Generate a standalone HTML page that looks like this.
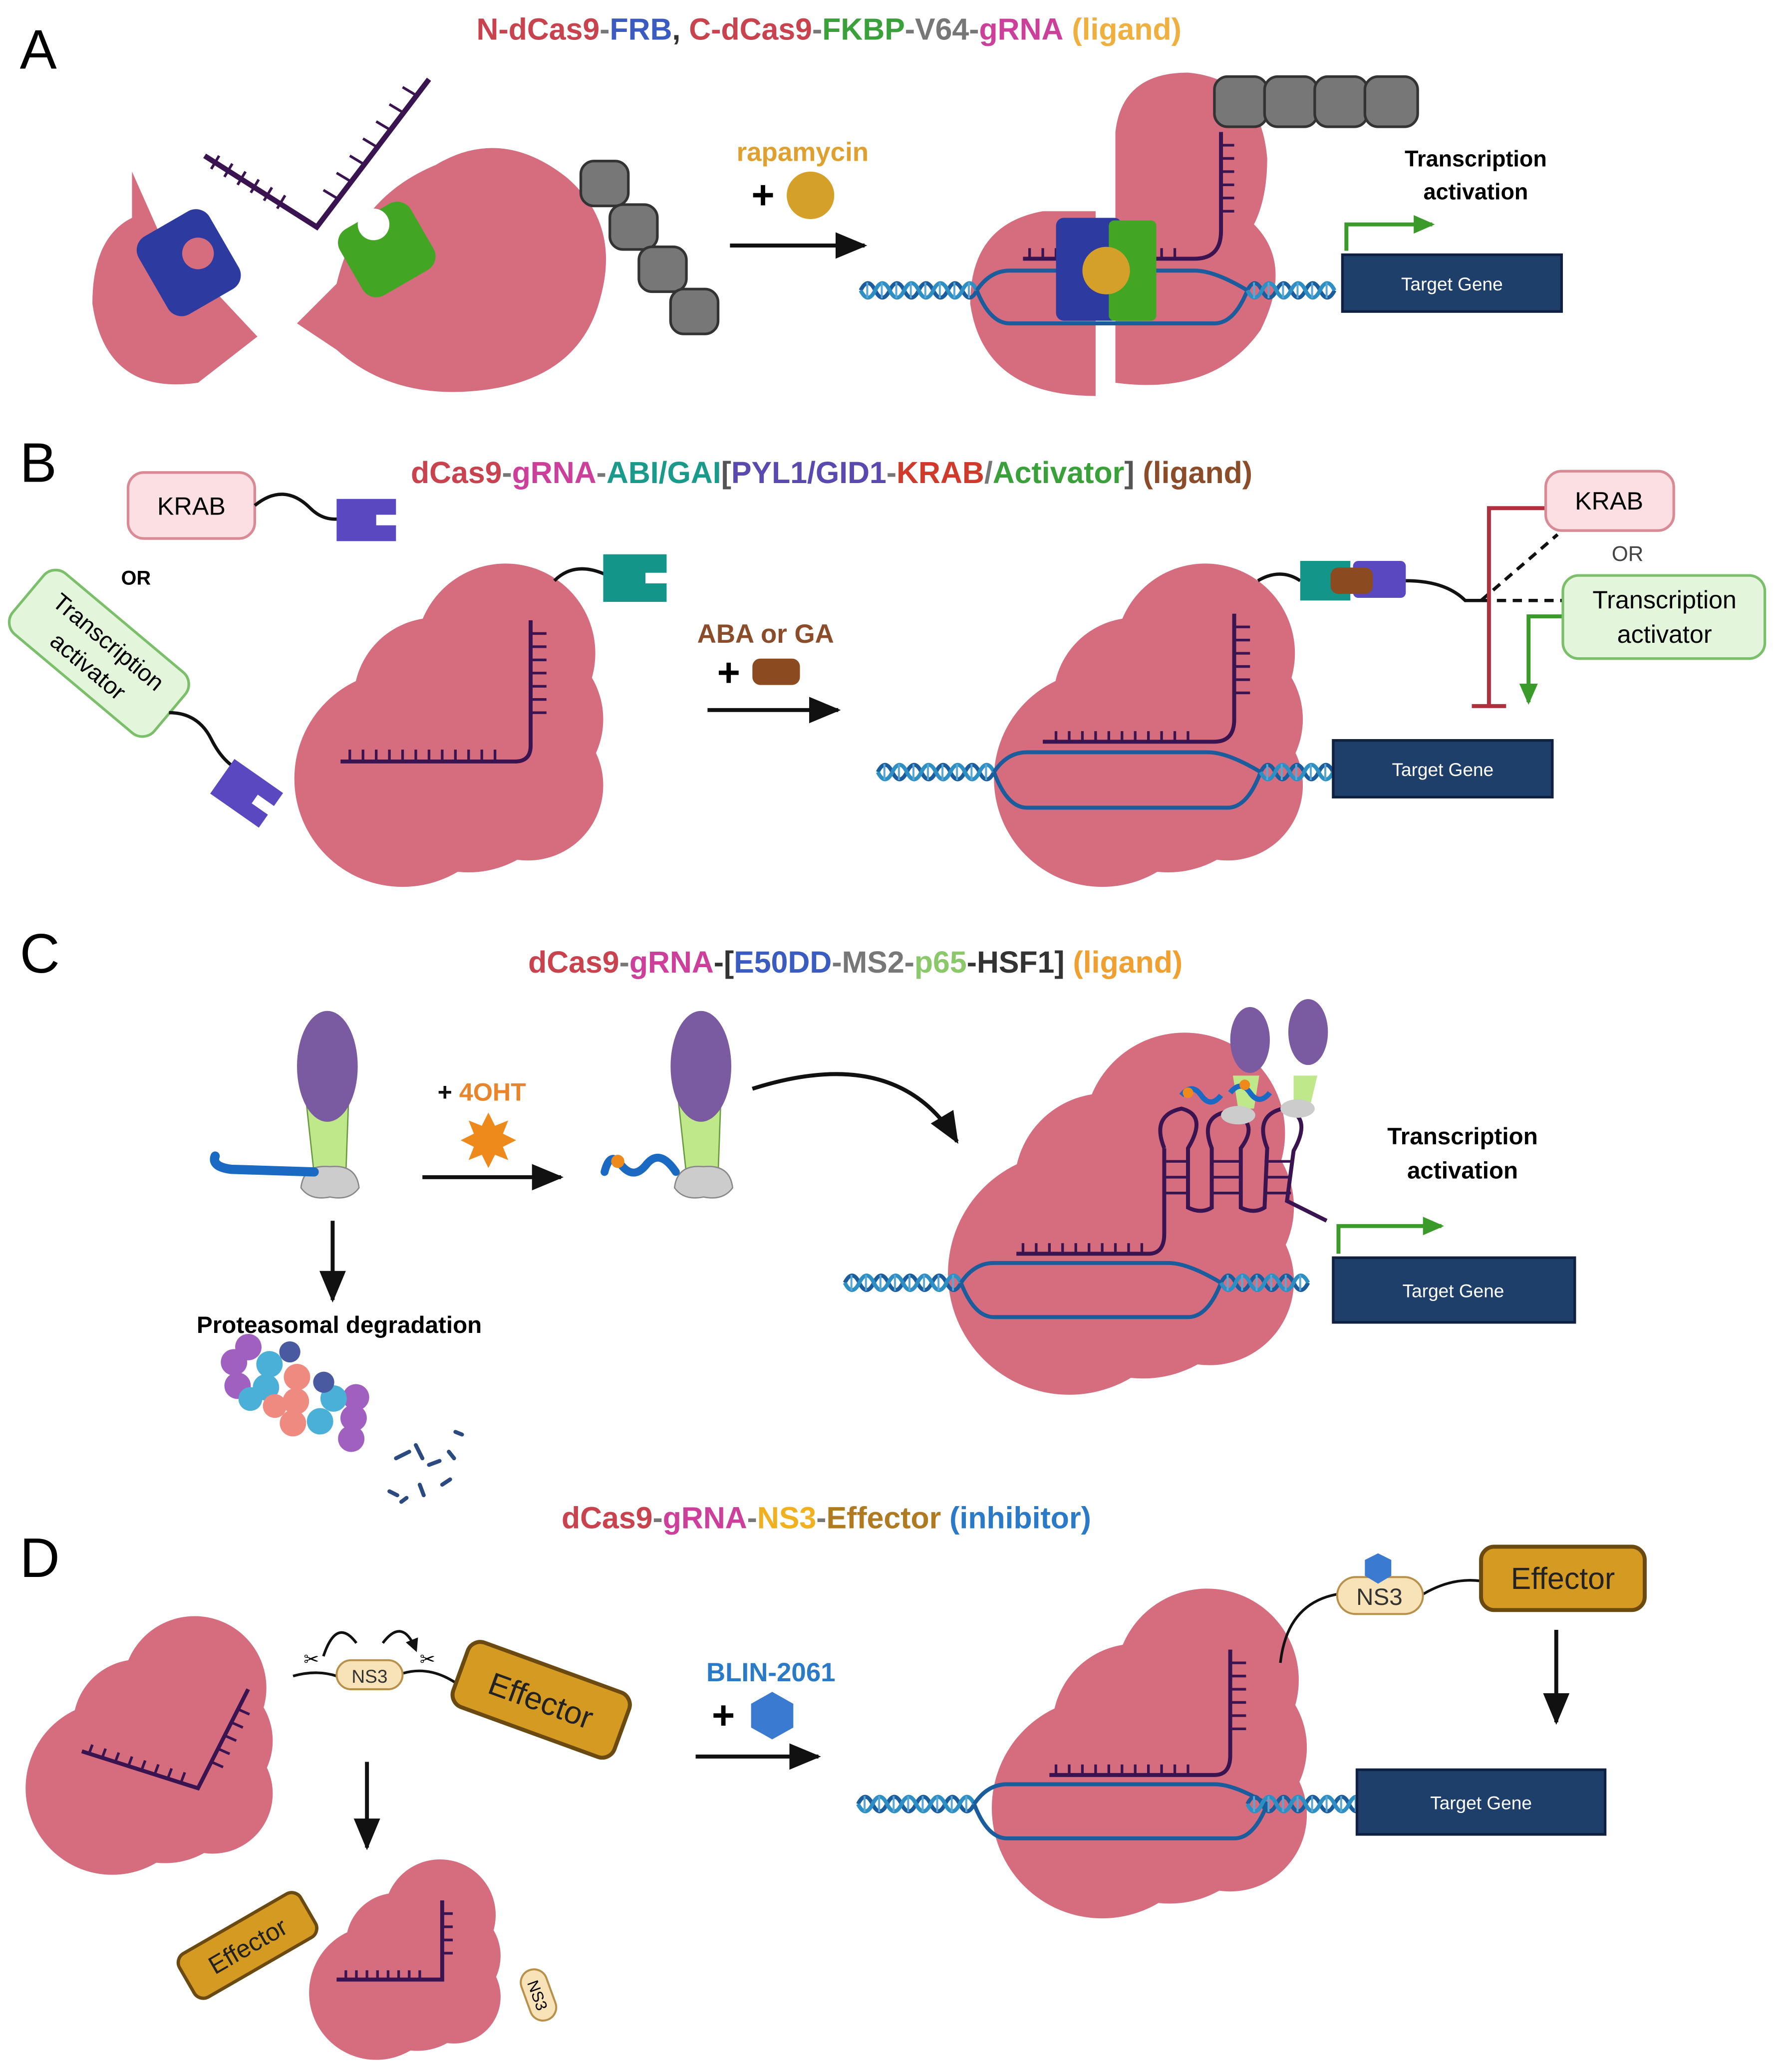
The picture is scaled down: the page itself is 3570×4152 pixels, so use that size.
<!DOCTYPE html>
<html><head><meta charset="utf-8"><style>
html,body{margin:0;padding:0;background:#fff;}
svg{display:block;}
text{font-family:"Liberation Sans",sans-serif;}
</style></head><body>
<svg width="3570" height="4152" viewBox="0 0 1350 1570" xmlns="http://www.w3.org/2000/svg">
<defs>
<g id="cas">
<circle cx="0" cy="0" r="82" fill="#d56d7e"/>
<circle cx="78" cy="-95" r="68" fill="#d56d7e"/>
<circle cx="95" cy="5" r="57" fill="#d56d7e"/>
<circle cx="40" cy="-40" r="72" fill="#d56d7e"/>
<circle cx="50" cy="-5" r="76" fill="#d56d7e"/>
<circle cx="25" cy="-60" r="62" fill="#d56d7e"/>
<circle cx="90" cy="-45" r="62" fill="#d56d7e"/>
</g>
<g id="dna1">
<path d="M0 0 q5.5 -11 11 0 t11 0 t11 0 t11 0 t11 0 t11 0 t11 0 t11 0" fill="none" stroke="#1b5c9c" stroke-width="3"/>
<path d="M0 0 q5.5 11 11 0 t11 0 t11 0 t11 0 t11 0 t11 0 t11 0 t11 0" fill="none" stroke="#2d8fc4" stroke-width="3"/>
<path d="M5 -6v12M16 -6v12M27 -6v12M38 -6v12M49 -6v12M60 -6v12M71 -6v12M82 -6v12" stroke="#5aa6d4" stroke-width="1.5"/>
</g>
<g id="dna2">
<path d="M0 0 q5.5 -11 11 0 t11 0 t11 0 t11 0 t11 0 t11 0" fill="none" stroke="#1b5c9c" stroke-width="3"/>
<path d="M0 0 q5.5 11 11 0 t11 0 t11 0 t11 0 t11 0 t11 0" fill="none" stroke="#2d8fc4" stroke-width="3"/>
<path d="M5 -6v12M16 -6v12M27 -6v12M38 -6v12M49 -6v12M60 -6v12" stroke="#5aa6d4" stroke-width="1.5"/>
</g>
<marker id="ah" markerWidth="10" markerHeight="10" refX="8" refY="5" orient="auto" markerUnits="userSpaceOnUse"><path d="M0 0L10 5L0 10z" fill="#111"/></marker>
<marker id="ahl" markerWidth="24" markerHeight="24" refX="22" refY="12" orient="auto" markerUnits="userSpaceOnUse"><path d="M0 2L24 12L0 22z" fill="#111"/></marker>
<marker id="ag" markerWidth="16" markerHeight="16" refX="14" refY="8" orient="auto" markerUnits="userSpaceOnUse"><path d="M0 1L16 8L0 15z" fill="#3a9a2a"/></marker>
</defs>

<!-- ============ A ============ -->
<text x="15" y="52" font-size="42">A</text>
<text x="628" y="30" font-size="23" font-weight="bold" text-anchor="middle"><tspan fill="#c9434f">N-dCas9</tspan><tspan fill="#777">-</tspan><tspan fill="#3a5cc0">FRB</tspan><tspan fill="#333">, </tspan><tspan fill="#c9434f">C-dCas9</tspan><tspan fill="#777">-</tspan><tspan fill="#3aa03a">FKBP</tspan><tspan fill="#777">-V64-</tspan><tspan fill="#cc3f9a">gRNA</tspan><tspan fill="#f0b040"> (ligand)</tspan></text>
<path d="M100 130 L120 175 L195 255 L150 290 Q80 300 70 230 Q70 180 100 165 Z" fill="#d56d7e"/>
<rect x="112" y="165" width="62" height="68" rx="12" fill="#2d3aa0" transform="rotate(-30 143 199)"/>
<circle cx="150" cy="192" r="12" fill="#d56d7e"/>
<path d="M225 245 L255 215 Q270 150 330 125 Q380 95 430 135 Q470 170 455 225 Q440 285 370 295 Q300 305 255 265 Z" fill="#d56d7e"/>
<rect x="262" y="160" width="62" height="58" rx="12" fill="#43a524" transform="rotate(-30 293 189)"/>
<circle cx="283" cy="170" r="12" fill="#fff"/>
<path d="M155 118 L240 172 L325 60" fill="none" stroke="#3a1450" stroke-width="4"/>
<path d="M160 128l6-10M170 134l6-10M180 140l6-10M190 146l6-10M200 152l6-10M210 158l6-10M255 150l-10-6M265 137l-10-6M275 124l-10-6M285 111l-10-6M295 98l-10-6M305 85l-10-6M315 72l-10-6" stroke="#3a1450" stroke-width="2"/>
<g fill="#777" stroke="#333" stroke-width="2">
<rect x="440" y="122" width="36" height="34" rx="10"/>
<rect x="462" y="155" width="36" height="34" rx="10"/>
<rect x="484" y="187" width="36" height="34" rx="10"/>
<rect x="508" y="219" width="36" height="34" rx="10"/>
</g>
<text x="608" y="122" font-size="20" font-weight="bold" fill="#e0a030" text-anchor="middle">rapamycin</text>
<text x="578" y="158" font-size="30" font-weight="bold" text-anchor="middle">+</text>
<circle cx="614" cy="148" r="18" fill="#d4a02a"/>
<line x1="553" y1="186" x2="655" y2="186" stroke="#111" stroke-width="3" marker-end="url(#ahl)"/>
<path d="M830 300 Q745 300 735 230 Q735 170 790 160 L830 160 Z" fill="#d56d7e"/>
<path d="M845 290 L845 100 Q850 55 900 55 Q955 60 960 120 Q960 150 950 170 Q980 200 955 250 Q920 300 845 290 Z" fill="#d56d7e"/>
<g fill="#777" stroke="#333" stroke-width="2">
<rect x="920" y="58" width="40" height="38" rx="10"/><rect x="958" y="58" width="40" height="38" rx="10"/><rect x="996" y="58" width="40" height="38" rx="10"/><rect x="1034" y="58" width="40" height="38" rx="10"/>
</g>
<use href="#dna1" x="652" y="220"/>
<path d="M740 220 Q750 205 765 205 L905 205 Q920 205 945 220" fill="none" stroke="#1b5c9c" stroke-width="3"/>
<path d="M740 220 Q750 245 765 245 L920 245 Q935 245 945 220" fill="none" stroke="#1b5c9c" stroke-width="3"/>
<use href="#dna2" x="945" y="220"/>
<path d="M775 196 L905 196 Q925 196 925 175 L925 100" fill="none" stroke="#3a1450" stroke-width="3"/>
<path d="M780 196v-8M790 196v-8M800 196v-8M810 196v-8M820 196v-8M830 196v-8M840 196v-8M850 196v-8M860 196v-8M870 196v-8M880 196v-8M890 196v-8M925 110h10M925 120h10M925 130h10M925 140h10M925 150h10M925 160h10" stroke="#3a1450" stroke-width="2"/>
<rect x="800" y="165" width="50" height="78" rx="6" fill="#2d3aa0"/>
<rect x="840" y="167" width="36" height="76" rx="4" fill="#43a524"/>
<circle cx="838" cy="205" r="18" fill="#d4a02a"/>
<rect x="1017" y="193" width="166" height="43" fill="#1f3f6b" stroke="#0f2040" stroke-width="2"/>
<text x="1100" y="220" font-size="14" fill="#fff" text-anchor="middle">Target Gene</text>
<path d="M1020 190 L1020 170 L1085 170" fill="none" stroke="#3a9a2a" stroke-width="3" marker-end="url(#ag)"/>
<text x="1118" y="126" font-size="17" font-weight="bold" text-anchor="middle">Transcription</text>
<text x="1118" y="151" font-size="17" font-weight="bold" text-anchor="middle">activation</text>

<!-- ============ B ============ -->
<text x="15" y="365" font-size="42">B</text>
<text x="630" y="366" font-size="23" font-weight="bold" text-anchor="middle"><tspan fill="#c9434f">dCas9</tspan><tspan fill="#777">-</tspan><tspan fill="#cc3f9a">gRNA</tspan><tspan fill="#777">-</tspan><tspan fill="#1a9a8a">ABI/GAI</tspan><tspan fill="#555">[</tspan><tspan fill="#5a4ab0">PYL1/GID1</tspan><tspan fill="#777">-</tspan><tspan fill="#d03a2a">KRAB</tspan><tspan fill="#777">/</tspan><tspan fill="#3aa03a">Activator</tspan><tspan fill="#555">]</tspan><tspan fill="#8b4c2a"> (ligand)</tspan></text>
<rect x="97" y="358" width="96" height="50" rx="12" fill="#fbdfe2" stroke="#d98a95" stroke-width="2"/>
<text x="145" y="390" font-size="19" text-anchor="middle">KRAB</text>
<path d="M193 383 Q215 365 235 385 Q245 395 258 393" fill="none" stroke="#111" stroke-width="2.5"/>
<path d="M255 378 h45 v12 h-15 v8 h15 v12 h-45 z" fill="#5a48c0"/>
<text x="103" y="443" font-size="15" font-weight="bold" text-anchor="middle">OR</text>
<g transform="rotate(40 75 495)"><rect x="5" y="465" width="140" height="60" rx="12" fill="#e3f5da" stroke="#7bbf6a" stroke-width="2"/>
<text x="75" y="490" font-size="18" text-anchor="middle">Transcription</text><text x="75" y="514" font-size="18" text-anchor="middle">activator</text></g>
<path d="M128 540 Q150 540 160 560 Q170 580 185 585" fill="none" stroke="#111" stroke-width="2.5"/>
<g transform="rotate(35 187 600)"><path d="M165 585 h45 v12 h-15 v8 h15 v12 h-45 z" fill="#5a48c0"/></g>
<use href="#cas" x="305" y="590"/>
<path d="M258 577 L390 577 Q402 577 402 565 L402 470" fill="none" stroke="#3a1450" stroke-width="3"/>
<path d="M265 577v-9M275 577v-9M285 577v-9M295 577v-9M305 577v-9M315 577v-9M325 577v-9M335 577v-9M345 577v-9M355 577v-9M365 577v-9M375 577v-9M402 480h12M402 490h12M402 500h12M402 510h12M402 520h12M402 530h12M402 540h12" stroke="#3a1450" stroke-width="2"/>
<path d="M420 440 Q435 425 458 435" fill="none" stroke="#111" stroke-width="2.5"/>
<path d="M457 420 h48 v14 h-16 v8 h16 v14 h-48 z" fill="#14958a"/>
<text x="580" y="487" font-size="20" font-weight="bold" fill="#8b4c2a" text-anchor="middle">ABA or GA</text>
<text x="552" y="520" font-size="30" font-weight="bold" text-anchor="middle">+</text>
<rect x="570" y="499" width="36" height="20" rx="6" fill="#8b4a20"/>
<line x1="536" y1="538" x2="635" y2="538" stroke="#111" stroke-width="3" marker-end="url(#ahl)"/>
<use href="#cas" x="835" y="590"/>
<use href="#dna1" x="665" y="585"/>
<path d="M753 585 Q763 570 778 570 L915 570 Q930 570 955 585" fill="none" stroke="#1b5c9c" stroke-width="3"/>
<path d="M753 585 Q763 612 778 612 L930 612 Q945 612 955 585" fill="none" stroke="#1b5c9c" stroke-width="3"/>
<use href="#dna2" x="955" y="585"/>
<path d="M790 562 L920 562 Q935 562 935 545 L935 465" fill="none" stroke="#3a1450" stroke-width="3"/>
<path d="M800 562v-8M810 562v-8M820 562v-8M830 562v-8M840 562v-8M850 562v-8M860 562v-8M870 562v-8M880 562v-8M890 562v-8M900 562v-8M935 475h12M935 485h12M935 495h12M935 505h12M935 515h12M935 525h12" stroke="#3a1450" stroke-width="2"/>
<path d="M953 440 Q970 430 985 440" fill="none" stroke="#111" stroke-width="2.5"/>
<rect x="985" y="425" width="38" height="30" fill="#14958a"/>
<rect x="1025" y="425" width="40" height="28" rx="4" fill="#5a48c0"/>
<rect x="1008" y="430" width="32" height="20" rx="6" fill="#8b4a20"/>
<path d="M1065 440 Q1095 440 1110 455 L1122 455" fill="none" stroke="#111" stroke-width="2.5"/>
<path d="M1122 455 L1180 405 M1122 455 L1184 455" stroke="#111" stroke-width="2.5" stroke-dasharray="7 5"/>
<rect x="1010" y="561" width="166" height="43" fill="#1f3f6b" stroke="#0f2040" stroke-width="2"/>
<text x="1093" y="588" font-size="14" fill="#fff" text-anchor="middle">Target Gene</text>
<path d="M1171 385 L1128 385 L1128 535 M1115 535 L1141 535" fill="none" stroke="#b03040" stroke-width="3"/>
<rect x="1171" y="357" width="97" height="45" rx="12" fill="#fbdfe2" stroke="#d98a95" stroke-width="2"/>
<text x="1219" y="386" font-size="19" text-anchor="middle">KRAB</text>
<text x="1233" y="425" font-size="16" fill="#444" text-anchor="middle">OR</text>
<path d="M1184 467 L1158 467 L1158 532" fill="none" stroke="#3a9a2a" stroke-width="3" marker-end="url(#ag)"/>
<rect x="1184" y="436" width="153" height="63" rx="12" fill="#e3f5da" stroke="#7bbf6a" stroke-width="2"/>
<text x="1261" y="461" font-size="19" text-anchor="middle">Transcription</text>
<text x="1261" y="487" font-size="19" text-anchor="middle">activator</text>

<!-- ============ C ============ -->
<text x="15" y="737" font-size="42">C</text>
<text x="648" y="737" font-size="23" font-weight="bold" text-anchor="middle"><tspan fill="#c9434f">dCas9</tspan><tspan fill="#777">-</tspan><tspan fill="#cc3f9a">gRNA</tspan><tspan fill="#333">-[</tspan><tspan fill="#3a5cc0">E50DD</tspan><tspan fill="#777">-MS2-</tspan><tspan fill="#8ac86a">p65</tspan><tspan fill="#333">-HSF1]</tspan><tspan fill="#f0a030"> (ligand)</tspan></text>
<path d="M232 835 L264 835 L262 890 L238 890 Z" fill="#bfe88a" stroke="#6a9a40" stroke-width="1"/>
<ellipse cx="248" cy="808" rx="23" ry="42" fill="#7a5aa0"/>
<path d="M228 900 Q230 882 250 884 Q270 882 272 900 Q265 910 250 907 Q235 910 228 900Z" fill="#ccc" stroke="#888"/>
<path d="M238 888 L175 886 Q160 884 163 876" fill="none" stroke="#1a6ac4" stroke-width="7" stroke-linecap="round"/>
<text x="365" y="834" font-size="19" font-weight="bold" fill="#e8852a" text-anchor="middle"><tspan fill="#111">+ </tspan>4OHT</text>
<path d="M370 843 l5 10 10 -4 -4 10 10 5 -10 5 4 10 -10 -4 -5 10 -5 -10 -10 4 4 -10 -10 -5 10 -5 -4 -10 10 4z" fill="#ee8a1c"/>
<line x1="320" y1="892" x2="425" y2="892" stroke="#111" stroke-width="3" marker-end="url(#ahl)"/>
<path d="M514 835 L546 835 L544 890 L520 890 Z" fill="#bfe88a" stroke="#6a9a40" stroke-width="1"/>
<ellipse cx="531" cy="808" rx="23" ry="42" fill="#7a5aa0"/>
<path d="M511 900 Q513 882 533 884 Q553 882 555 900 Q548 910 533 907 Q518 910 511 900Z" fill="#ccc" stroke="#888"/>
<path d="M512 888 Q500 870 490 882 Q480 895 470 882 Q462 872 458 888" fill="none" stroke="#1a6ac4" stroke-width="6" stroke-linecap="round"/>
<circle cx="468" cy="880" r="5" fill="#ee8a1c"/>
<path d="M570 825 Q680 790 725 865" fill="none" stroke="#111" stroke-width="3" marker-end="url(#ahl)"/>
<line x1="252" y1="925" x2="252" y2="985" stroke="#111" stroke-width="3" marker-end="url(#ahl)"/>
<text x="257" y="1010" font-size="18" font-weight="bold" text-anchor="middle">Proteasomal degradation</text>
<g transform="rotate(25 225 1060)">
<g fill="#a060c0"><circle cx="170" cy="1055" r="10"/><circle cx="175" cy="1040" r="10"/><circle cx="180" cy="1070" r="10"/><circle cx="270" cy="1055" r="10"/><circle cx="275" cy="1070" r="10"/><circle cx="265" cy="1040" r="10"/></g>
<g fill="#4ab0d8"><circle cx="195" cy="1045" r="10"/><circle cx="200" cy="1062" r="10"/><circle cx="250" cy="1048" r="10"/><circle cx="248" cy="1068" r="10"/><circle cx="193" cy="1075" r="9"/></g>
<g fill="#ef8a80"><circle cx="218" cy="1045" r="10"/><circle cx="225" cy="1062" r="10"/><circle cx="230" cy="1078" r="10"/><circle cx="212" cy="1072" r="9"/></g>
<g fill="#4a5aa0"><circle cx="238" cy="1040" r="8"/><circle cx="205" cy="1030" r="8"/></g>
</g>
<g stroke="#2a4a80" stroke-width="3" stroke-linecap="round"><path d="M300 1105l10-5M315 1095l5 10M325 1110l8 -3M295 1130l6 3M318 1125l3 8M340 1100l4 5M335 1125l6-4M308 1135l-4 3M345 1085l5 2"/></g>
<use href="#cas" transform="translate(810 965) scale(1.12)"/>
<use href="#dna1" x="640" y="972"/>
<path d="M728 972 Q738 957 753 957 L885 957 Q900 957 925 972" fill="none" stroke="#1b5c9c" stroke-width="3"/>
<path d="M728 972 Q738 998 753 998 L900 998 Q915 998 925 972" fill="none" stroke="#1b5c9c" stroke-width="3"/>
<use href="#dna2" x="925" y="972"/>
<path d="M770 950 L870 950 Q882 950 882 935 L882 870 M882 870 Q872 845 895 840 Q915 845 900 870 L900 915 Q910 920 918 915 L918 870 Q908 845 932 842 Q955 850 940 870 L940 915 Q950 920 958 915 L960 870 Q950 845 972 840 Q995 845 980 872 L975 910 L1005 925" fill="none" stroke="#3a1450" stroke-width="3"/>
<path d="M775 950v-8M785 950v-8M795 950v-8M805 950v-8M815 950v-8M825 950v-8M835 950v-8M845 950v-8M855 950v-8M865 950v-8M882 880h18M882 892h18M882 904h18M918 880h22M918 892h22M918 904h22M958 880h20M958 892h20M958 904h20" stroke="#3a1450" stroke-width="2"/>
<path d="M934 815 L954 815 L950 840 L938 840Z" fill="#bfe88a"/><ellipse cx="947" cy="788" rx="15" ry="25" fill="#7a5aa0"/>
<path d="M980 815 L998 815 L992 840 L980 840Z" fill="#bfe88a"/><ellipse cx="991" cy="782" rx="15" ry="25" fill="#7a5aa0"/>
<ellipse cx="938" cy="845" rx="13" ry="7" fill="#ccc"/><ellipse cx="983" cy="840" rx="13" ry="7" fill="#ccc"/>
<path d="M895 830 q8 -10 15 0 t15 0 M932 828 q8 -10 15 0 t15 0" fill="none" stroke="#1a6ac4" stroke-width="4"/>
<circle cx="900" cy="828" r="4" fill="#ee8a1c"/><circle cx="943" cy="822" r="4" fill="#ee8a1c"/>
<rect x="1010" y="953" width="183" height="49" fill="#1f3f6b" stroke="#0f2040" stroke-width="2"/>
<text x="1101" y="983" font-size="14" fill="#fff" text-anchor="middle">Target Gene</text>
<path d="M1014 950 L1014 929 L1092 929" fill="none" stroke="#3a9a2a" stroke-width="3" marker-end="url(#ag)"/>
<text x="1108" y="867" font-size="18" font-weight="bold" text-anchor="middle">Transcription</text>
<text x="1108" y="893" font-size="18" font-weight="bold" text-anchor="middle">activation</text>

<!-- ============ D ============ -->
<text x="626" y="1158" font-size="23" font-weight="bold" text-anchor="middle"><tspan fill="#c9434f">dCas9</tspan><tspan fill="#777">-</tspan><tspan fill="#cc3f9a">gRNA</tspan><tspan fill="#777">-</tspan><tspan fill="#f0b020">NS3</tspan><tspan fill="#777">-</tspan><tspan fill="#b07a20">Effector</tspan><tspan fill="#2a7ac8"> (inhibitor)</tspan></text>
<text x="15" y="1195" font-size="42">D</text>
<use href="#cas" transform="translate(85 1355) scale(0.8)"/>
<path d="M62 1327 L150 1355 L188 1280" fill="none" stroke="#3a1450" stroke-width="3"/>
<path d="M70 1322l-3 8M80 1325l-3 8M90 1328l-3 8M100 1331l-3 8M110 1334l-3 8M120 1337l-3 8M130 1340l-3 8M140 1343l-3 8M180 1295l9 4M175 1305l9 4M170 1315l9 4M165 1325l9 4M160 1335l9 4" stroke="#3a1450" stroke-width="2"/>
<path d="M222 1270 Q240 1265 255 1270 M305 1268 Q325 1262 345 1275" fill="none" stroke="#111" stroke-width="2"/>
<rect x="255" y="1258" width="50" height="22" rx="11" fill="#f8e2b8" stroke="#b8904a" stroke-width="1.5"/>
<text x="280" y="1275" font-size="14" fill="#333" text-anchor="middle">NS3</text>
<path d="M245 1255 Q255 1225 270 1245 M290 1245 Q305 1225 315 1250" fill="none" stroke="#111" stroke-width="2" marker-end="url(#ah)"/>
<text x="230" y="1262" font-size="14">✂</text><text x="318" y="1262" font-size="14">✂</text>
<g transform="rotate(20 410 1288)"><rect x="345" y="1262" width="130" height="52" rx="10" fill="#d49a22" stroke="#6a4a10" stroke-width="3"/>
<text x="410" y="1297" font-size="24" text-anchor="middle" fill="#222">Effector</text></g>
<line x1="278" y1="1335" x2="278" y2="1400" stroke="#111" stroke-width="3" marker-end="url(#ahl)"/>
<g transform="rotate(-30 188 1475)"><rect x="135" y="1455" width="106" height="38" rx="8" fill="#d49a22" stroke="#6a4a10" stroke-width="2.5"/>
<text x="188" y="1481" font-size="19" text-anchor="middle" fill="#222">Effector</text></g>
<use href="#cas" transform="translate(285 1510) scale(0.62)"/>
<path d="M255 1500 L335 1500 L335 1440" fill="none" stroke="#3a1450" stroke-width="3"/>
<path d="M262 1500v-7M270 1500v-7M278 1500v-7M286 1500v-7M294 1500v-7M302 1500v-7M310 1500v-7M318 1500v-7M335 1450h8M335 1460h8M335 1470h8M335 1480h8" stroke="#3a1450" stroke-width="2"/>
<g transform="rotate(70 407 1512)"><rect x="387" y="1501" width="40" height="20" rx="10" fill="#f8e2b8" stroke="#b8904a" stroke-width="1.5"/><text x="407" y="1516" font-size="12" text-anchor="middle">NS3</text></g>
<text x="584" y="1274" font-size="20" font-weight="bold" fill="#2a7ac8" text-anchor="middle">BLIN-2061</text>
<text x="548" y="1310" font-size="30" font-weight="bold" text-anchor="middle">+</text>
<path d="M585 1282 L601 1291 L601 1309 L585 1318 L569 1309 L569 1291Z" fill="#3a7ad0"/>
<line x1="527" y1="1331" x2="620" y2="1331" stroke="#111" stroke-width="3" marker-end="url(#ahl)"/>
<use href="#cas" transform="translate(835 1370) scale(1.02)"/>
<use href="#dna1" x="650" y="1367"/>
<path d="M738 1367 Q748 1352 763 1352 L920 1352 Q935 1352 960 1367" fill="none" stroke="#1b5c9c" stroke-width="3"/>
<path d="M738 1367 Q748 1393 763 1393 L935 1393 Q950 1393 960 1367" fill="none" stroke="#1b5c9c" stroke-width="3"/>
<use href="#dna1" x="945" y="1367"/>
<path d="M795 1345 L920 1345 Q932 1345 932 1330 L932 1250" fill="none" stroke="#3a1450" stroke-width="3"/>
<path d="M800 1345v-8M810 1345v-8M820 1345v-8M830 1345v-8M840 1345v-8M850 1345v-8M860 1345v-8M870 1345v-8M880 1345v-8M890 1345v-8M900 1345v-8M932 1260h12M932 1270h12M932 1280h12M932 1290h12M932 1300h12M932 1310h12" stroke="#3a1450" stroke-width="2"/>
<path d="M970 1260 Q975 1215 1013 1208 M1078 1208 Q1100 1195 1122 1198" fill="none" stroke="#111" stroke-width="2"/>
<rect x="1013" y="1195" width="65" height="28" rx="14" fill="#f8e2b8" stroke="#b8904a" stroke-width="1.5"/>
<text x="1045" y="1216" font-size="18" fill="#333" text-anchor="middle">NS3</text>
<path d="M1044 1177 L1054 1182 L1054 1194 L1044 1200 L1034 1194 L1034 1182Z" fill="#3a7ad0"/>
<rect x="1122" y="1172" width="124" height="48" rx="10" fill="#d49a22" stroke="#6a4a10" stroke-width="3"/>
<text x="1184" y="1204" font-size="23" text-anchor="middle" fill="#222">Effector</text>
<line x1="1179" y1="1235" x2="1179" y2="1305" stroke="#111" stroke-width="3" marker-end="url(#ahl)"/>
<rect x="1028" y="1341" width="188" height="49" fill="#1f3f6b" stroke="#0f2040" stroke-width="2"/>
<text x="1122" y="1371" font-size="14" fill="#fff" text-anchor="middle">Target Gene</text>
</svg>
</body></html>
